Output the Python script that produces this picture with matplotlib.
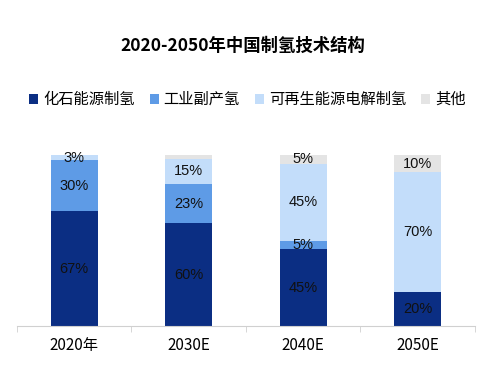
import numpy as np
import matplotlib
matplotlib.use("Agg")
import matplotlib.pyplot as plt

plt.rcParams['font.family'] = ['Noto Sans CJK SC', 'DejaVu Sans']

years = ['2020年', '2030E', '2040E', '2050E']
series = ['化石能源制氢', '工业副产氢', '可再生能源电解制氢', '其他']
fossil = [67, 60, 45, 20]
industrial = [30, 23, 5, 0]
renewable = [3, 15, 45, 70]
other = [0, 2, 5, 10]
colors = ['#0b2e83', '#5e9be6', '#c3ddfa', '#e4e4e4']

fig = plt.figure(figsize=(4.85, 3.65), dpi=100)
ax = fig.add_axes([0.035, 0.107, 0.944, 0.468])

x = np.arange(len(years))
bottom = np.zeros(len(years))
for name, vals, c in zip(series, [fossil, industrial, renewable, other], colors):
    vals = np.array(vals)
    ax.bar(x, vals, 0.41, bottom=bottom, color=c, label=name)
    for xi, b, v in zip(x, bottom, vals):
        if v >= 3 and not (name == '其他' and v < 5):
            ax.text(xi, b + v / 2, f'{v}%', ha='center', va='center',
                    fontsize=10.5, color='#111111', family=['Liberation Sans', 'DejaVu Sans'])
    bottom += vals

ax.set_xlim(-0.5, len(years) - 0.5)
ax.set_ylim(0, 100)
ax.set_yticks([])
for s in ['top', 'right', 'left']:
    ax.spines[s].set_visible(False)
ax.spines['bottom'].set_color('#d0d0d0')
ax.set_xticks(x)
ax.set_xticklabels(years, fontsize=11)
ax.tick_params(axis='x', length=0, pad=8)
ax.set_xticks(np.arange(-0.5, len(years)), minor=True)
ax.tick_params(axis='x', which='minor', length=4, color='#d0d0d0')

fig.text(0.5, 0.875, '2020-2050年中国制氢技术结构', ha='center', va='center',
         fontsize=12.5, fontweight='bold')
fig.legend(loc='center', bbox_to_anchor=(0.51, 0.727), ncol=4, frameon=False,
           fontsize=11, handlelength=0.6, handleheight=0.6, handletextpad=0.3,
           columnspacing=1.0)

fig.savefig('out.png', dpi=100)
